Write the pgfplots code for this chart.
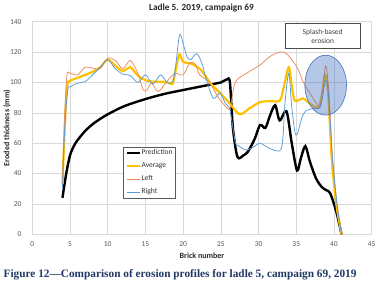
\documentclass[border=0pt]{standalone}
\usepackage{fontspec}
\setmainfont{Carlito}
\newfontfamily\capfont{Liberation Serif}
\usepackage{pgfplots}
\pgfplotsset{compat=1.18}
\definecolor{avg}{HTML}{FFC000}
\definecolor{lft}{HTML}{F08A58}
\definecolor{rgt}{HTML}{5B9BD5}
\definecolor{grd}{HTML}{D9D9D9}
\definecolor{tck}{HTML}{595959}
\definecolor{capc}{HTML}{1F3864}
\definecolor{ell}{HTML}{4472C4}
\begin{document}
\begin{tikzpicture}[x=1pt,y=1pt]
\path[use as bounding box] (0,0) rectangle (383,290);
\begin{axis}[at={(32.3pt,55.7pt)}, anchor=south west, scale only axis,
  width=339.4pt, height=212.6pt,
  xmin=0, xmax=45, ymin=0, ymax=140,
  xtick={0,5,...,45}, ytick={0,20,...,140},
  grid=major, major grid style={grd, line width=0.6pt},
  axis line style={grd, line width=0.6pt},
  tick style={draw=none},
  /pgf/number format/assume math mode=true,
  tick label style={font=\fontsize{7.5}{8}\selectfont, text=tck, inner sep=0pt},
  yticklabel style={anchor=east, xshift=-10.6pt},
  xticklabel style={anchor=north, yshift=-7.6pt},
  legend style={at={(axis cs:12.07,57.8)}, anchor=north west, draw=black!65,
    line width=0.5pt, font=\fontsize{7.5}{8}\selectfont, text=black!80,
    inner sep=2.6pt, row sep=6.1pt, column sep=0pt,
    nodes={inner sep=0pt, text height=5.3pt, text depth=1.7pt}, cells={anchor=west}},
  legend image code/.code={\draw[#1] (0pt,0pt) -- (13pt,0pt);},
  every axis plot/.append style={smooth, tension=0.5, no markers},
]
\addplot[black, line width=2.4pt] coordinates {
(4,24) (4.5,40) (5,52) (5.5,58) (6,62) (7,68) (8,72.5) (9,76) (10,79) (12,84) (14,87.5) (16,90.5) (18,93) (20,95) (22,97) (24,99) (25,100) (25.8,102) (26.2,100) (26.6,70) (27.2,51) (28,52) (28.6,54.5) (29.5,63) (30.2,72) (30.9,70) (31.5,78) (32.2,85) (32.8,75) (33.7,81) (34.4,60) (35.1,42) (35.6,50) (36.2,58) (36.8,48) (37.6,37) (38.4,31) (39,29) (39.5,27) (40.3,15) (41,0)};
\addlegendentry{Prediction}
\addplot[avg, line width=2.2pt] coordinates {
(4,33) (4.3,70) (4.6,97) (5,101) (6,103) (7,105) (8,107) (9,110) (10,115) (11,111) (12,107.5) (13,110) (14,104.5) (15,101.5) (16,100.5) (17,100.5) (18,100) (18.6,99) (19,108) (19.5,118.5) (20,113.5) (21,112.5) (22.2,109) (23,104) (23.6,99.5) (24.9,93) (26.2,86) (27.5,79) (28.8,83) (30.2,87) (31.5,87.7) (32.8,88) (33.3,96) (34,110) (34.4,98) (34.8,88) (35.9,89.5) (36.8,86) (37.9,83.5) (38.4,92) (38.8,105) (39.2,95) (39.7,50) (40.3,20) (41,0)};
\addlegendentry{Average}
\addplot[lft, line width=0.75pt] coordinates {
(4,35) (4.3,80) (4.6,105) (5,106) (6,105) (7,110) (8,109.5) (9,109) (10,116) (11,114.5) (12,109) (13,114.5) (14,106) (14.7,95) (15.2,95) (15.8,99.5) (16.7,94) (17.8,100.5) (18.9,106) (20,105) (20.9,113) (21.6,112) (22.2,105) (23.4,100.5) (24.5,91.5) (25.3,86) (26.2,83) (26.9,100) (28.4,106) (30.2,111.5) (31.5,117) (32.8,120) (33.7,119) (35.1,110) (35.9,100.5) (36.8,93) (37.7,86) (38.1,84) (38.5,95) (38.9,111) (39.3,95) (39.8,50) (40.4,20) (41,0)};
\addlegendentry{Left}
\addplot[rgt, line width=0.75pt] coordinates {
(4,30) (4.3,70) (4.7,95) (5,97) (6,99.5) (7,100.5) (8,105) (9,110) (10,115) (11,109) (12,105.5) (13,104.5) (14,100) (15,105) (16,99) (17,105) (18,99.5) (18.8,103.5) (19.5,131) (20,125.5) (20.5,117) (21,115) (21.8,119) (22.5,112.5) (23.1,101.5) (24,89.5) (24.9,93) (25.6,86) (26.2,82) (26.9,61) (27.3,58.5) (28.4,55.5) (29.5,58) (30.2,60) (31.5,56.5) (32.8,55) (33.2,62) (33.5,86) (34,106) (34.4,84) (34.8,68) (35.1,65.5) (35.7,76) (36.2,81) (37.3,83) (38.2,84) (38.9,101.5) (39.3,90) (39.8,50) (40.4,20) (41,0)};
\addlegendentry{Right}
\draw[ell, fill=ell, fill opacity=0.4, line width=0.6pt] (axis cs:38.9,98.2) ellipse [x radius=20.8pt, y radius=30pt];
\node[draw=black!70, fill=white, line width=0.5pt, minimum width=74.3pt, minimum height=25pt, align=center, font=\fontsize{7.5}{9}\selectfont, text=black!75] at (axis cs:38.5,130.6) {Splash-based\\erosion};
\end{axis}
\node[font=\bfseries\fontsize{9.3}{11}\selectfont, text=black!85] at (201.5,282) {Ladle 5. 2019, campaign 69};
\node[rotate=90, font=\bfseries\fontsize{8}{9}\selectfont, text=black!85] at (7,162) {Eroded thickness (mm)};
\node[font=\bfseries\fontsize{8}{9}\selectfont, text=black!85] at (202,34) {Brick number};
\node[anchor=west, font=\capfont\bfseries\fontsize{11.3}{13}\selectfont, text=capc, inner sep=0pt] at (3.5,15) {Figure 12—Comparison of erosion profiles for ladle 5, campaign 69, 2019};
\end{tikzpicture}
\end{document}
